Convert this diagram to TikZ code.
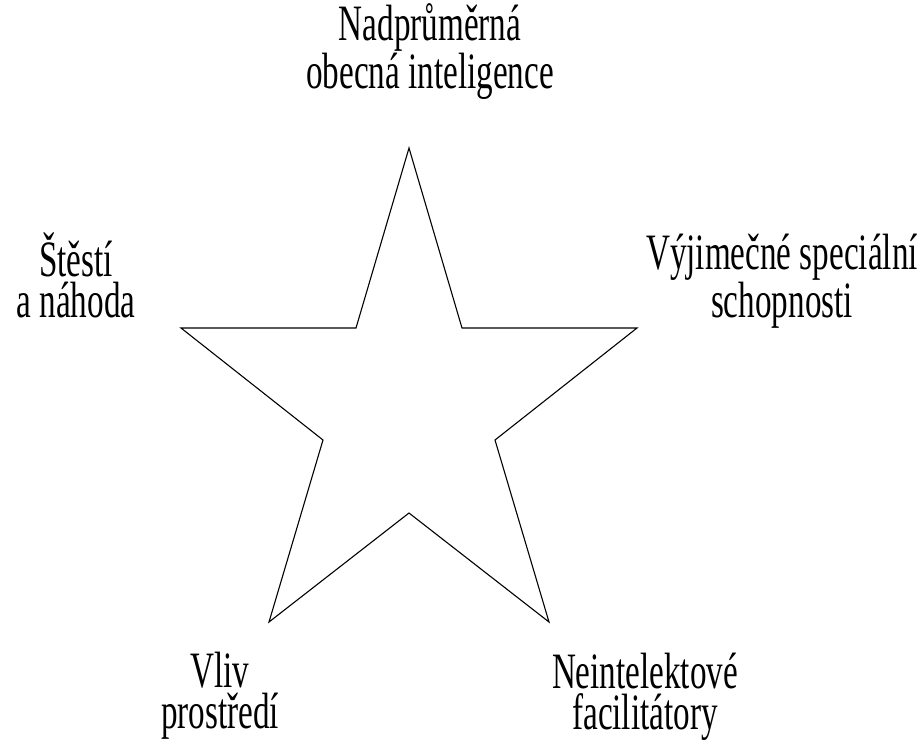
\documentclass[tikz,border=0pt]{standalone}
\usepackage{fontspec}
\setmainfont[FakeStretch=0.65]{Liberation Serif}
\begin{document}
\begin{tikzpicture}[x=1pt,y=-1pt,
  lbl/.style={align=center,inner sep=0pt,anchor=base,font=\fontsize{51}{41}\selectfont},
  starline/.style={draw=black,line width=1.1pt,line join=miter}]
\useasboundingbox (0,0) rectangle (922,750);
\coordinate (p1) at (409,148);
\coordinate (p2) at (462,328);
\coordinate (p3) at (637,328);
\coordinate (p4) at (495,440);
\coordinate (p5) at (549,622);
\coordinate (p6) at (409,513);
\coordinate (p7) at (269,622);
\coordinate (p8) at (323,440);
\coordinate (p9) at (181,328);
\coordinate (p10) at (356,328);
\draw[starline] (p1) -- (p2) -- (p3) -- (p4) -- (p5) -- (p6) -- (p7) -- (p8) -- (p9) -- (p10) -- cycle;
\node[lbl] (top) at (430,88) {Nadprůměrná\\obecná inteligence};
\node[lbl] (right) at (782,317) {Výjimečné speciální\\schopnosti};
\node[lbl] (left) at (76,317) {Štěstí\\a náhoda};
\node[lbl] (bl) at (220,728) {Vliv\\prostředí};
\node[lbl] (br) at (645,729) {Neintelektové\\facilitátory};
\end{tikzpicture}
\end{document}
